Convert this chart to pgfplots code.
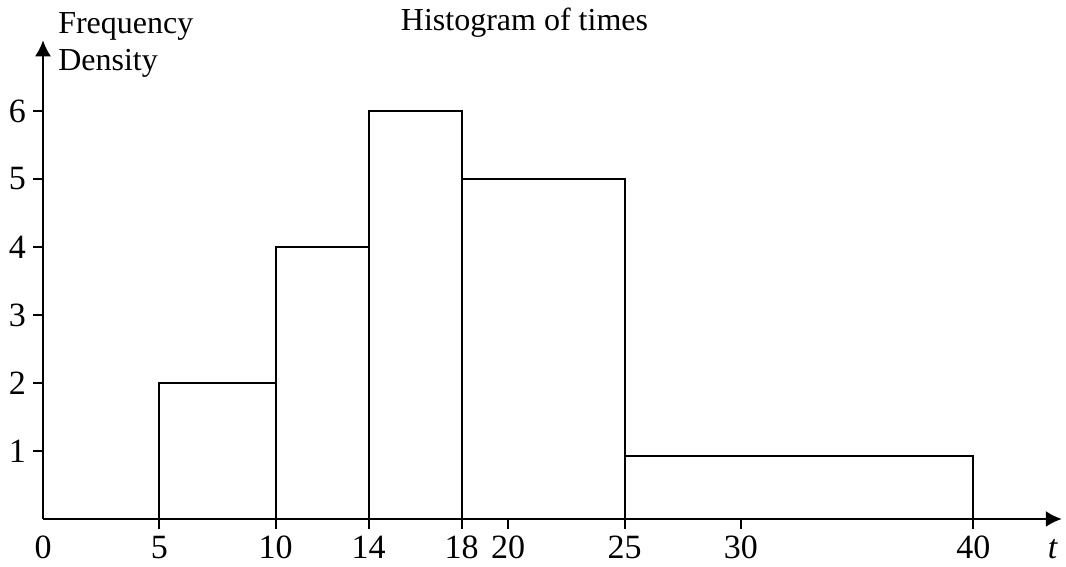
\documentclass[border=0pt]{standalone}
\usepackage{fontspec}
\setmainfont{Liberation Serif}
\usepackage{pgfplots}
\pgfplotsset{compat=1.18}
\usetikzlibrary{arrows.meta}

\begin{document}
\begin{tikzpicture}
\begin{axis}[
  x=11.63pt, y=34pt,
  xmin=0, xmax=43.8, ymin=0, ymax=7.04,
  axis lines=left,
  axis line style={line width=1pt, -{Latex[length=8pt,width=8pt]}},
  tick align=outside,
  major tick length=5pt,
  tick style={line width=1pt, black},
  xtick={5,10,14,18,20,25,30,40},
  ytick={1,2,3,4,5,6},
  extra x ticks={0},
  extra x tick style={major tick style={draw=none}},
  clip=false,
  /pgf/number format/assume math mode=true,
  tick label style={font=\fontsize{17}{20}\selectfont},
]
% class boundaries and frequency densities (last point closes the interval)
\addplot[ybar interval, fill=none, draw=black, line width=1pt]
  coordinates {(5,2) (10,4) (14,6) (18,5) (25,0.93) (40,0.93)};

\node[anchor=north west, align=left, inner sep=0pt,
  font=\fontsize{16}{18.5}\selectfont] at (axis cs:0.64,7.45) {Frequency\\Density};
\node[font=\fontsize{16}{19}\selectfont] at (axis cs:20.7,7.3) {Histogram of times};
\node[font=\fontsize{17}{20}\selectfont\itshape] at (axis cs:43.4,-0.44) {t};

\coordinate (bbsw) at (axis cs:-1.849,-0.706);
\coordinate (bbne) at (axis cs:43.98,7.632);
\end{axis}
\pgfresetboundingbox
\path[use as bounding box] (bbsw) rectangle (bbne);
\end{tikzpicture}
\end{document}
